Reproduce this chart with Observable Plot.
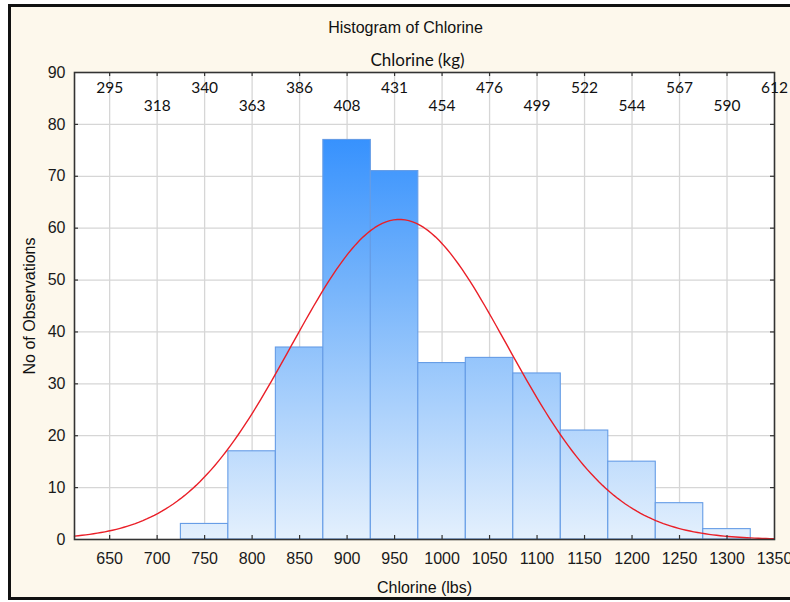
<!DOCTYPE html>
<html><head><meta charset="utf-8">
<script src="https://cdn.jsdelivr.net/npm/d3@7"></script>
<script src="https://cdn.jsdelivr.net/npm/@observablehq/plot@0.6"></script>
<style>
html,body{margin:0;padding:0;background:#fff;}
#chart{position:relative;width:790px;height:602px;overflow:hidden;}
</style></head><body><div id="chart"></div>
<script>
// ---- data ----
const binCenters = [750, 800, 850, 900, 950, 1000, 1050, 1100, 1150, 1200, 1250, 1300];
const binCounts  = [3, 17, 37, 77, 71, 34, 35, 32, 21, 15, 7, 2];
const binWidth = 50;
const xDomain = [613, 1350];
const yDomain = [0, 90];
const lbsTicks = [650, 700, 750, 800, 850, 900, 950, 1000, 1050, 1100, 1150, 1200, 1250, 1300, 1350];
const kgLabels = ["295", "318", "340", "363", "386", "408", "431", "454", "476", "499", "522", "544", "567", "590", "612"];
const yTicks = [0, 10, 20, 30, 40, 50, 60, 70, 80, 90];
// fitted normal curve parameters (peak near 955 lbs)
const fitMean = 955;
const fitSd = 113.5;
const titleText = "Histogram of Chlorine";
const topAxisTitle = "Chlorine (kg)";
const bottomAxisTitle = "Chlorine (lbs)";
const leftAxisTitle = "No of Observations";

// ---- derived tables ----
const bins = binCenters.map((c, i) => ({x1: c - binWidth / 2, x2: c + binWidth / 2, count: binCounts[i]}));
const nObs = d3.sum(binCounts);
const curve = d3.range(xDomain[0], xDomain[1] + 0.1, 4).map(x => ({
  x,
  y: nObs * binWidth / (fitSd * Math.sqrt(2 * Math.PI)) * Math.exp(-0.5 * ((x - fitMean) / fitSd) ** 2)
}));
const kgTicks = lbsTicks.map((v, i) => ({lbs: v, kg: kgLabels[i], row: i % 2}));
const innerTicksX = lbsTicks.slice(0, -1);
const innerTicksY = yTicks.slice(1, -1);

const sans = "'Liberation Sans', Arial, sans-serif";
const calib = "Lato, 'Open Sans', sans-serif";

const chart = Plot.plot({
  width: 790,
  height: 602,
  marginLeft: 74,
  marginRight: 16,
  marginTop: 72,
  marginBottom: 63,
  style: {background: "transparent", fontFamily: sans, fontSize: "16px", color: "#1a1a1a", overflow: "visible"},
  x: {domain: xDomain, label: null},
  y: {domain: yDomain, label: null},
  marks: [
    Plot.frame({fill: "white", stroke: "none"}),
    Plot.gridX(innerTicksX, {stroke: "#d6d6d6", strokeOpacity: 1, strokeWidth: 1.3}),
    Plot.gridY(innerTicksY, {stroke: "#d6d6d6", strokeOpacity: 1, strokeWidth: 1.3}),
    Plot.rectY(bins, {x1: "x1", x2: "x2", y: "count", fill: "url(#barGrad)", stroke: "#659ce6", strokeWidth: 1.1}),
    Plot.line(curve, {x: "x", y: "y", stroke: "#ea1f28", strokeWidth: 1.4}),
    // inward ticks on all four sides
    Plot.ruleX(innerTicksX, {y1: yDomain[0], y2: yDomain[0], insetTop: -4, stroke: "#333", strokeWidth: 1.2}),
    Plot.ruleX(innerTicksX, {y1: yDomain[1], y2: yDomain[1], insetBottom: -4, stroke: "#333", strokeWidth: 1.2}),
    Plot.ruleY(innerTicksY, {x1: xDomain[0], x2: xDomain[0], insetRight: -4, stroke: "#333", strokeWidth: 1.2}),
    Plot.ruleY(innerTicksY, {x1: xDomain[1], x2: xDomain[1], insetLeft: -4, stroke: "#333", strokeWidth: 1.2}),
    Plot.frame({stroke: "#333", strokeWidth: 1.6}),
    Plot.axisX(lbsTicks, {anchor: "bottom", tickSize: 0, tickPadding: 13, tickFormat: d => String(d), label: null, fontSize: 16, fill: "#1a1a1a"}),
    Plot.axisY(yTicks, {anchor: "left", tickSize: 0, tickPadding: 9, tickFormat: d => String(d), label: null, fontSize: 16, fill: "#1a1a1a"}),
    // kg labels inside top of plot, two staggered rows
    Plot.text(kgTicks.filter(d => d.row === 0), {x: "lbs", text: "kg", frameAnchor: "top", lineAnchor: "middle", dy: 16, fontFamily: calib, fontSize: 15.5, fill: "#111"}),
    Plot.text(kgTicks.filter(d => d.row === 1), {x: "lbs", text: "kg", frameAnchor: "top", lineAnchor: "middle", dy: 34, fontFamily: calib, fontSize: 15.5, fill: "#111"}),
    // titles
    Plot.text([titleText], {frameAnchor: "top", lineAnchor: "middle", dx: -19, dy: -45, fontSize: 16, fill: "#111"}),
    Plot.text([topAxisTitle], {frameAnchor: "top", lineAnchor: "middle", dx: -7, dy: -12, fontFamily: calib, fontSize: 17, fill: "#111"}),
    Plot.text([bottomAxisTitle], {frameAnchor: "bottom", lineAnchor: "middle", dy: 48, fontSize: 16, fill: "#111"}),
    Plot.text([leftAxisTitle], {frameAnchor: "left", textAnchor: "middle", lineAnchor: "middle", dx: -45, rotate: -90, fontSize: 16, fill: "#111"})
  ]
});

// background panel with thick border, and gradient for bars
const svg = d3.select(chart);
const ys = chart.scale("y");
svg.insert("rect", ":first-child")
  .attr("x", 9.5).attr("y", 5.5).attr("width", 800).attr("height", 593)
  .attr("fill", "#fdf8ec").attr("stroke", "#111").attr("stroke-width", 3);
const defs = svg.insert("defs", ":first-child");
const grad = defs.append("linearGradient").attr("id", "barGrad")
  .attr("gradientUnits", "userSpaceOnUse")
  .attr("x1", 0).attr("x2", 0)
  .attr("y1", ys.apply(yDomain[1])).attr("y2", ys.apply(yDomain[0]));
grad.append("stop").attr("offset", "0%").attr("stop-color", "#1a82ff");
grad.append("stop").attr("offset", "45%").attr("stop-color", "#74b3fb");
grad.append("stop").attr("offset", "100%").attr("stop-color", "#e4f0fd");

document.getElementById("chart").appendChild(chart);
</script></body></html>
